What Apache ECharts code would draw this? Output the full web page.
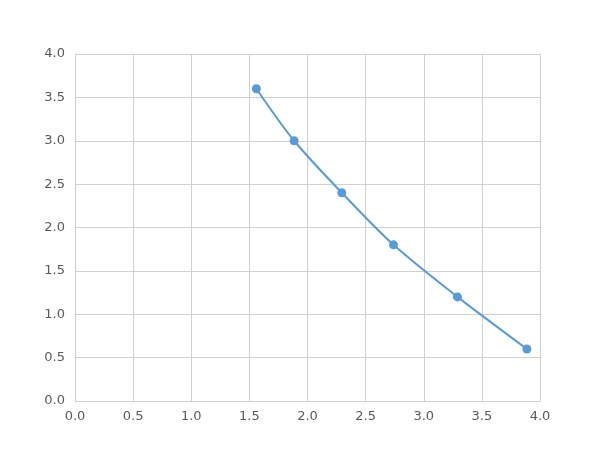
<!DOCTYPE html>
<html><head><meta charset="utf-8">
<script src="https://cdn.jsdelivr.net/npm/echarts@6/dist/echarts.min.js"></script>
<style>html,body{margin:0;padding:0;background:#fff}#c{width:600px;height:450px}</style>
</head><body><div id="c"></div>
<script>
const xValues = [1.56, 1.885, 2.295, 2.74, 3.29, 3.887];
const yValues = [3.6, 3.0, 2.4, 1.8, 1.2, 0.6];
const chart = echarts.init(document.getElementById('c'));
const axisCommon = {
  min: 0, max: 4, interval: 0.5,
  axisLine: {show: true, lineStyle: {color: '#d0d0d0'}},
  axisTick: {show: false},
  splitLine: {show: true, lineStyle: {color: '#d0d0d0', width: 1}},
  axisLabel: {color: '#595959', fontSize: 13, fontFamily: 'DejaVu Sans', formatter: v => v.toFixed(1)}
};
chart.setOption({
  animation: false,
  grid: {left: 75, right: 60, top: 54, bottom: 49},
  xAxis: Object.assign({type: 'value'}, axisCommon, {axisLabel: Object.assign({}, axisCommon.axisLabel, {margin: 9})}),
  yAxis: Object.assign({type: 'value'}, axisCommon, {axisLabel: Object.assign({}, axisCommon.axisLabel, {margin: 10})}),
  series: [{
    type: 'line',
    data: xValues.map((x, i) => [x, yValues[i]]),
    smooth: 0.3,
    symbol: 'circle',
    symbolSize: 9,
    itemStyle: {color: '#5B9BD5'},
    lineStyle: {color: '#5B9BD5', width: 2}
  }]
});
</script></body></html>
